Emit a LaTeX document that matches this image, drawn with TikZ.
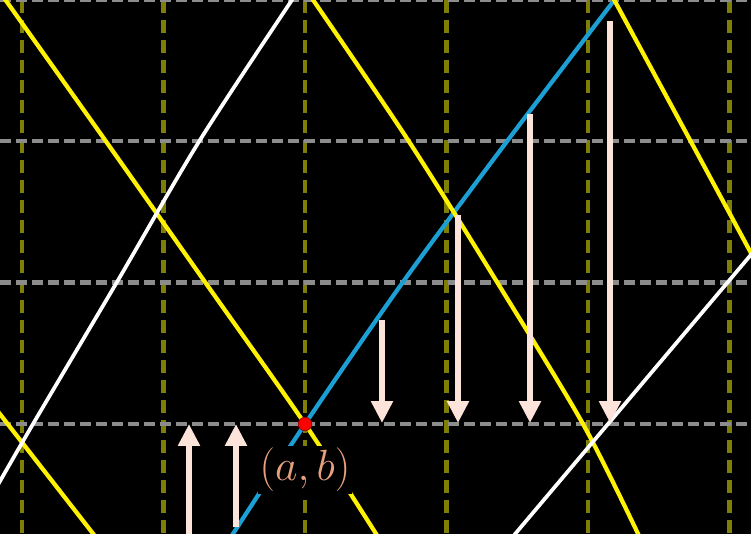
\documentclass[tikz,border=0pt]{standalone}
\usepackage{xcolor}
\usepackage{tikz}
\usetikzlibrary{arrows.meta, positioning}
\usepackage{amsmath}
\definecolor{Grid}  {HTML}{8C8C8C}
\definecolor{Olive} {HTML}{7F7F05}
\definecolor{Sky}   {HTML}{1C9FD4}
\definecolor{Peach} {HTML}{FCE4DA}
\definecolor{Tan}   {HTML}{E8A07C}

\begin{document}
\begin{tikzpicture}[x=0.02cm, y=-0.02cm,
  hline/.style={draw=Grid, line width=0.09cm, dash pattern=on 0.22cm off 0.1cm},
  vline/.style={draw=Olive, line width=0.09cm, dash pattern=on 0.26cm off 0.14cm},
  level/.style={draw=yellow, line width=0.085cm},
  cross/.style={draw=white, line width=0.075cm},
  path/.style={draw=Sky, line width=0.085cm},
  push/.style={draw=Peach, line width=0.13cm, -{Triangle[width=0.42cm, length=0.44cm]}}]
  \fill[black] (0,0) rectangle (751,534);
  \useasboundingbox (0,0) rectangle (751,534);
  \clip (0,0) rectangle (751,534);
  \foreach \gx in {22,163.5,305,446.5,588,729.5}
    \draw[vline] (\gx,0) -- (\gx,534);
  \foreach \gy in {0,141,282.5,424}
    \draw[hline] (0,\gy) -- (751,\gy);
  \draw[path] plot[smooth] coordinates {(619,-6) (508,140) (403,282) (305,424) (229,540)};
  \draw[level] plot[smooth] coordinates {(-3,-12) (105,140) (205,282) (305,424) (380,540)};
  \draw[level] plot[smooth] coordinates {(309,-6) (408,140) (497,282) (583,424) (641,540)};
  \draw[level] plot[smooth] coordinates {(611,-6) (690,140) (758,266)};
  \draw[level] (-11,400) -- (98,540);
  \draw[cross] plot[smooth] coordinates {(296,-6) (200,140) (117,282) (33,424) (-5,490)};
  \draw[cross] (760,244) -- (510,540);
  \foreach \ax/\ay in {189/545, 236/527}
    \draw[push] (\ax,\ay) -- (\ax,424);
  \foreach \ax/\ay in {382/320, 458/215, 530/114, 610/21}
    \draw[push] (\ax,\ay) -- (\ax,423);
  \node[circle, fill=red, draw=red!60!black, line width=0.4pt, inner sep=0pt, minimum size=0.27cm] (ab) at (305,424) {};
  \node[below=0.3cm of ab, fill=black, text=Tan, inner sep=1pt, font=\fontsize{24}{28}\selectfont] (ablabel) {$(a,b)$};
\end{tikzpicture}
\end{document}
